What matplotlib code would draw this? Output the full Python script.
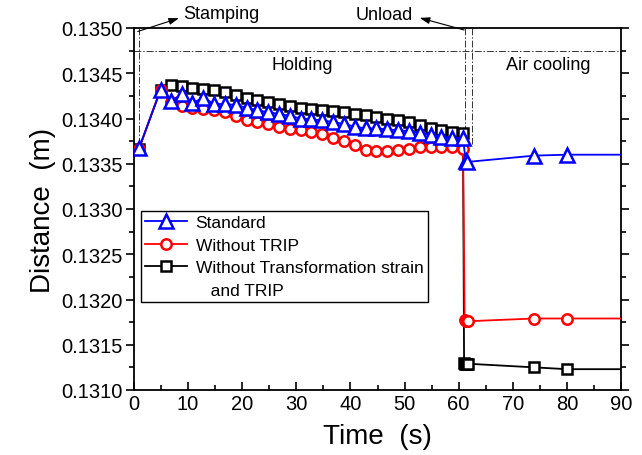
import numpy as np
import matplotlib
matplotlib.use('Agg')
import matplotlib.pyplot as plt
from matplotlib.lines import Line2D
from matplotlib.ticker import MultipleLocator, FormatStrFormatter

plt.rcParams['font.family'] = ['Liberation Sans', 'DejaVu Sans']

# ── Data ─────────────────────────────────────────────────────────
t_hold = [6.8, 8.8, 10.8, 12.8, 14.8, 16.8, 18.8, 20.8, 22.8, 24.8, 26.8, 28.8, 30.8, 32.8,
          34.8, 36.8, 38.8, 40.8, 42.8, 44.8, 46.8, 48.8, 50.8, 52.8, 54.8, 56.8, 58.8, 60.8]

std_t = [0.9, 4.9] + t_hold + [61.3, 61.6, 74.0, 80.0, 90.0]
std_d = [0.13367, 0.13431,
         0.13419, 0.13427, 0.13417, 0.13423, 0.13416, 0.13416, 0.13415, 0.13412, 0.13409, 0.13407,
         0.13405, 0.13403, 0.13400, 0.13399, 0.13398, 0.13396, 0.13394, 0.13391, 0.13389, 0.13389,
         0.13388, 0.13387, 0.13386, 0.13384, 0.13382, 0.13380, 0.13379, 0.13378,
         0.13353, 0.13352, 0.13359, 0.13360, 0.13360]

trip_t = [0.9, 4.9] + t_hold + [61.1, 61.3, 61.5, 61.8, 74.0, 80.0, 90.0]
trip_d = [0.13366, 0.13432,
          0.13418, 0.13414, 0.13412, 0.13411, 0.13409, 0.13407, 0.13403, 0.13398, 0.13396, 0.13394,
          0.13391, 0.13388, 0.13387, 0.13385, 0.13383, 0.13379, 0.13375, 0.13371, 0.13365, 0.13364,
          0.13364, 0.13365, 0.13366, 0.13368, 0.13369, 0.13369, 0.13369, 0.13366,
          0.13177, 0.13176, 0.13176, 0.13176, 0.13179, 0.13179, 0.13179]

ts_t = [0.9, 4.9] + t_hold + [61.0, 61.2, 61.4, 61.6, 61.8, 74.0, 80.0, 90.0]
ts_d = [0.13366, 0.13432,
        0.13437, 0.13436, 0.13434, 0.13433, 0.13431, 0.13429, 0.13426, 0.13423, 0.13420, 0.13418,
        0.13416, 0.13414, 0.13412, 0.13411, 0.13409, 0.13408, 0.13407, 0.13405, 0.13404, 0.13402,
        0.13400, 0.13398, 0.13396, 0.13393, 0.13389, 0.13387, 0.13385, 0.13384,
        0.13130, 0.13129, 0.13129, 0.13129, 0.13129, 0.13125, 0.13123, 0.13123]

labels = ['Standard', 'Without TRIP', 'Without Transformation strain']

# stage markers
stamp_t = 1.0
unload_t = [61.2, 62.4]
stage_line_y = 0.13475

# ── Figure ───────────────────────────────────────────────────────
fig = plt.figure(figsize=(6.42, 4.56), dpi=100)
ax = fig.add_axes([134 / 642, 1 - 391 / 456, 487 / 642, 362 / 456])

dashdot = (0, (7, 2, 1.5, 2))

ax.plot(ts_t, ts_d, color='black', lw=1.3, marker='s', ms=6.5, mfc='white', mec='black',
        mew=1.8, markevery=list(range(len(ts_t) - 1)), zorder=3)
ax.plot(trip_t, trip_d, color='red', lw=1.3, marker='o', ms=7.5, mfc='white', mec='red',
        mew=1.8, markevery=list(range(len(trip_t) - 1)), zorder=4)
ax.plot(std_t, std_d, color='blue', lw=1.3, marker='^', ms=10, mfc='white', mec='blue',
        mew=1.8, markevery=list(range(len(std_t) - 1)), zorder=5)

# stage guide lines
ax.plot([0, 90], [stage_line_y, stage_line_y], color='#333333', lw=0.7, ls=dashdot, zorder=2)
ax.plot([stamp_t, stamp_t], [0.1350, 0.13375], color='#333333', lw=0.7, ls=dashdot, zorder=2)
for ut in unload_t:
    ax.plot([ut, ut], [0.1350, 0.13372], color='#333333', lw=0.7, ls=dashdot, zorder=2)

ax.text(31.1, 0.13460, 'Holding', fontsize=13, ha='center', va='center')
ax.text(76.5, 0.13460, 'Air cooling', fontsize=13, ha='center', va='center')

ax.annotate('', xy=(8.8, 0.135118), xytext=(0.2, 0.134952), annotation_clip=False,
            arrowprops=dict(arrowstyle='-|>,head_length=0.6,head_width=0.2', color='black', lw=0.8))
ax.text(9.1, 0.135155, 'Stamping', fontsize=13, ha='left', va='center', clip_on=False)
ax.annotate('', xy=(52.3, 0.13512), xytext=(61.5, 0.13497), annotation_clip=False,
            arrowprops=dict(arrowstyle='-|>,head_length=0.6,head_width=0.2', color='black', lw=0.8))
ax.text(51.6, 0.135144, 'Unload', fontsize=13, ha='right', va='center', clip_on=False)

# ── Axes styling ─────────────────────────────────────────────────
ax.set_xlim(0, 90)
ax.set_ylim(0.1310, 0.1350)
ax.xaxis.set_major_locator(MultipleLocator(10))
ax.xaxis.set_minor_locator(MultipleLocator(5))
ax.yaxis.set_major_locator(MultipleLocator(0.0005))
ax.yaxis.set_minor_locator(MultipleLocator(0.00025))
ax.yaxis.set_major_formatter(FormatStrFormatter('%.4f'))
ax.tick_params(axis='x', which='both', direction='in', labelsize=14.5, width=1.2, pad=3)
ax.tick_params(axis='x', which='major', length=6)
ax.tick_params(axis='x', which='minor', length=3.5)
ax.tick_params(axis='y', which='both', direction='out', labelsize=14.5, width=1.2,
               right=True, pad=2)
ax.tick_params(axis='y', which='major', length=6)
ax.tick_params(axis='y', which='minor', length=3.5)
for s in ax.spines.values():
    s.set_linewidth(1.3)

ax.set_xlabel('Time  (s)', fontsize=20, labelpad=7)
ax.set_ylabel('Distance  (m)', fontsize=20, labelpad=4)

# ── Legend ───────────────────────────────────────────────────────
handles = [
    Line2D([], [], color='blue', lw=1.3, marker='^', ms=10, mfc='white', mec='blue', mew=1.8),
    Line2D([], [], color='red', lw=1.3, marker='o', ms=7.5, mfc='white', mec='red', mew=1.8),
    Line2D([], [], color='black', lw=1.3, marker='s', ms=6.5, mfc='white', mec='black', mew=1.8),
    Line2D([], [], linestyle='none'),
]
leg = ax.legend(handles, labels + ['   and TRIP'], loc='upper left',
                bbox_to_anchor=((141 - 134) / 487, (391 - 212) / 362), borderaxespad=0,
                fontsize=12.5, handlelength=2.4, handletextpad=0.5, labelspacing=0.42,
                borderpad=0.25, fancybox=False, framealpha=1, edgecolor='black')
leg.get_frame().set_linewidth(1.0)

plt.savefig('out.png', dpi=100)
plt.close()
